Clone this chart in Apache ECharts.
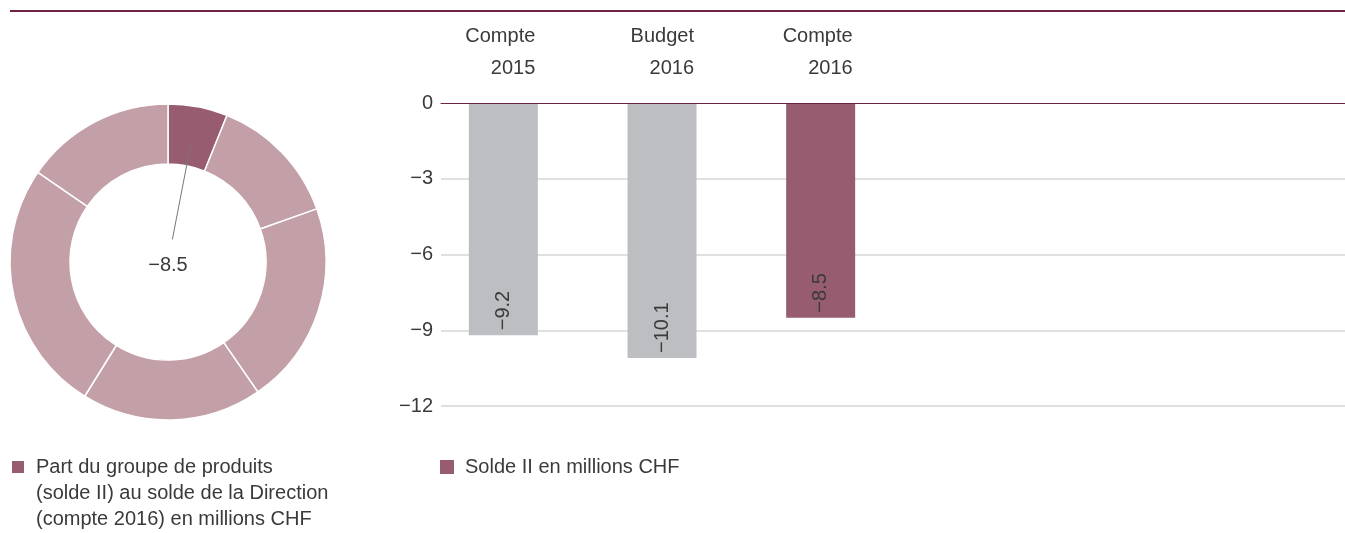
<!DOCTYPE html>
<html>
<head>
<meta charset="utf-8">
<script src="https://cdn.jsdelivr.net/npm/echarts@6/dist/echarts.min.js"></script>
<style>
html, body { margin: 0; padding: 0; background: #fff; }
#main { width: 1345px; height: 533px; }
</style>
</head>
<body>
<div id="main"></div>
<script>
// ==============================
// data
var barCategories = ['Compte\n2015', 'Budget\n2016', 'Compte\n2016'];
var barValues = [-9.2, -10.1, -8.5];
var barColors = ['#bdbec2', '#bdbec2', '#975c6f'];
var barSeriesName = 'Solde II en millions CHF';

var pieNames = ['Part du groupe de produits\n(solde II) au solde de la Direction\n(compte 2016) en millions CHF',
		'Groupe 2', 'Groupe 3', 'Groupe 4', 'Groupe 5', 'Groupe 6'];
var pieShares = [8.5, 18.8, 29.1, 25.8, 36.0, 21.5];
var pieLabel = '\u22128.5';

var yMin = -12, yMax = 0, yStep = 3;

// ==============================

var maroon = '#975c6f';
var lightMaroon = '#c3a0a8';
var lineMaroon = '#6e2346';
var font = 'Liberation Sans';
var textColor = '#3a3a3a';

var pieCenter = [168, 262];
var pieRadius = [98, 158];

function minus(v) {
	return v < 0 ? '\u2212' + String(Math.abs(v)) : String(v);
}

// leader line of the highlighted slice, from its share
var total = 0;
for (var i = 0; i < pieShares.length; i++) {
	total += pieShares[i];
}
var midAngle = pieShares[0] / 2 / total * 2 * Math.PI;
var lineFrom = 118, lineTo = 23;

var myChart = echarts.init(document.getElementById('main'));

var option = {
	animation : false,
	backgroundColor : '#FFFFFF',
	textStyle : {
		fontFamily : font,
		color : textColor
	},
	graphic : [{
				type : 'line',
				shape : {
					x1 : 10,
					y1 : 11,
					x2 : 1345,
					y2 : 11
				},
				style : {
					stroke : lineMaroon,
					lineWidth : 2
				}
			}, {
				type : 'line',
				z : 10,
				shape : {
					x1 : pieCenter[0] + lineFrom * Math.sin(midAngle),
					y1 : pieCenter[1] - lineFrom * Math.cos(midAngle),
					x2 : pieCenter[0] + lineTo * Math.sin(midAngle),
					y2 : pieCenter[1] - lineTo * Math.cos(midAngle)
				},
				style : {
					stroke : '#777',
					lineWidth : 1
				}
			}],
	legend : [{
				left : 10,
				top : 402,
				padding : 0,
				selectedMode : false,
				icon : 'rect',
				itemWidth : 14,
				itemHeight : 14,
				data : [pieNames[0]],
				// two blank lines on top so the first line sits next to the square
				formatter : function(name) {
					return '\n\n' + name;
				},
				textStyle : {
					fontFamily : font,
					fontSize : 20,
					color : textColor,
					lineHeight : 26,
					padding : [0, 0, 0, 6]
				}
			}, {
				left : 440,
				top : 454,
				padding : 0,
				selectedMode : false,
				icon : 'rect',
				itemWidth : 14,
				itemHeight : 14,
				data : [barSeriesName],
				textStyle : {
					fontFamily : font,
					fontSize : 20,
					color : textColor,
					lineHeight : 26,
					padding : [0, 0, 0, 6]
				}
			}],
	grid : [{
				left : 441,
				right : 0,
				top : 103,
				bottom : 127
			}, {
				left : 424,
				width : 476,
				top : 103,
				bottom : 127
			}],
	xAxis : [{
				gridIndex : 0,
				type : 'value',
				position : 'top',
				z : 5,
				axisLine : {
					show : true,
					onZero : false,
					lineStyle : {
						color : lineMaroon,
						width : 1
					}
				},
				axisTick : {
					show : false
				},
				axisLabel : {
					show : false
				},
				splitLine : {
					show : false
				}
			}, {
				gridIndex : 1,
				type : 'category',
				position : 'top',
				data : barCategories,
				axisLine : {
					show : false
				},
				axisTick : {
					show : false
				},
				axisLabel : {
					margin : 19,
					formatter : function(v) {
						return v.split('\n').map(function(s) {
									return '{a|' + s + '}';
								}).join('\n');
					},
					rich : {
						a : {
							width : 64,
							align : 'right',
							fontFamily : font,
							fontSize : 20,
							lineHeight : 32,
							color : textColor
						}
					}
				}
			}],
	yAxis : [{
				gridIndex : 0,
				type : 'value',
				min : yMin,
				max : yMax,
				interval : yStep,
				axisLine : {
					show : false
				},
				axisTick : {
					show : false
				},
				axisLabel : {
					margin : 8,
					fontFamily : font,
					fontSize : 20,
					color : textColor,
					formatter : minus
				},
				splitLine : {
					showMaxLine : false,
					lineStyle : {
						color : '#d6d6d6',
						width : 1.5
					}
				}
			}, {
				gridIndex : 1,
				type : 'value',
				min : yMin,
				max : yMax,
				interval : yStep,
				show : false
			}],
	series : [{
				type : 'pie',
				silent : true,
				center : pieCenter,
				radius : pieRadius,
				startAngle : 90,
				clockwise : true,
				itemStyle : {
					borderColor : '#fff',
					borderWidth : 1.5
				},
				label : {
					show : false
				},
				labelLine : {
					show : false
				},
				data : pieShares.map(function(v, i) {
							var item = {
								name : pieNames[i],
								value : v,
								itemStyle : {
									color : i == 0 ? maroon : lightMaroon
								}
							};
							if (i == 0) {
								item.label = {
									show : true,
									position : 'center',
									formatter : '{a|' + pieLabel + '}',
									rich : {
										a : {
											fontFamily : font,
											fontSize : 20,
											color : textColor,
											padding : [6, 0, 0, 0]
										}
									}
								};
							}
							return item;
						})
			}, {
				type : 'bar',
				name : barSeriesName,
				silent : true,
				xAxisIndex : 1,
				yAxisIndex : 1,
				barWidth : 69,
				itemStyle : {
					color : maroon
				},
				label : {
					show : true,
					position : 'insideBottom',
					distance : 5,
					rotate : 90,
					align : 'left',
					verticalAlign : 'middle',
					fontFamily : font,
					fontSize : 20,
					color : textColor,
					formatter : function(p) {
						return minus(p.value);
					}
				},
				data : barValues.map(function(v, i) {
							return {
								value : v,
								itemStyle : {
									color : barColors[i]
								}
							};
						})
			}]
};

myChart.setOption(option);
</script>
</body>
</html>
